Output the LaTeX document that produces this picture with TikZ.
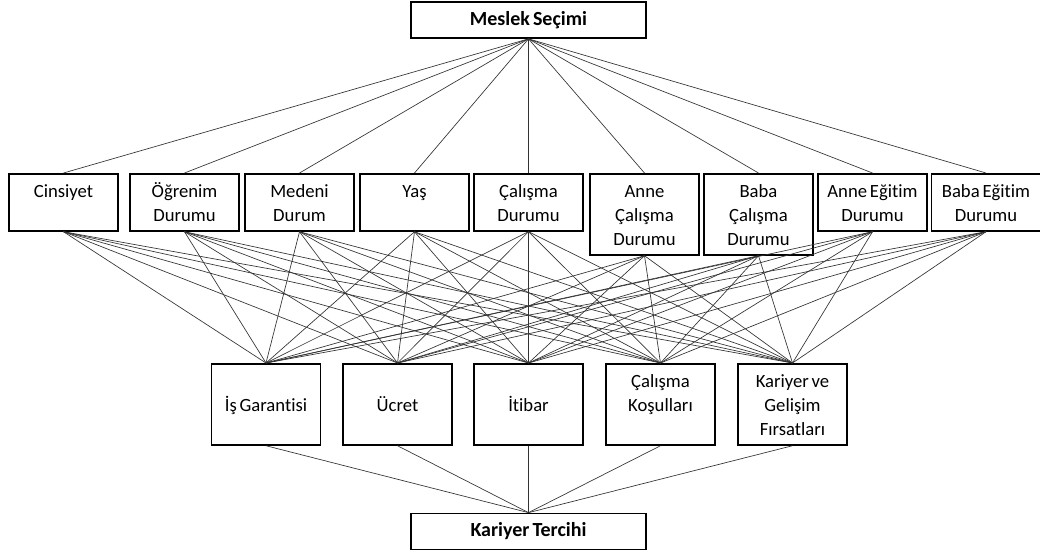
\documentclass[tikz,border=0pt]{standalone}
\usepackage{fontspec}
\setmainfont{Carlito}[Ligatures=NoCommon]
\usepackage{tikz}
\usetikzlibrary{positioning}
\newcommand{\tightwords}{\spaceskip=0.15em\relax}

\begin{document}
\begin{tikzpicture}[x=0.75pt, y=-0.75pt,
    box/.style={draw, line width=1.3pt, inner sep=0pt, text width=81.75pt, align=center,
        font=\fontsize{14}{18}\selectfont, execute at begin node=\tightwords, anchor=north},
    midbox/.style={box, text height=18pt, text depth=24.75pt},
    tallbox/.style={box, text height=18pt, text depth=42.75pt},
    lowbox/.style={box, text height=36pt, text depth=24.75pt},
    endbox/.style={draw, line width=1.3pt, minimum width=176.25pt, minimum height=27pt,
        font=\fontsize{15}{18}\selectfont\bfseries\tightwords},
    link/.style={draw=black!80, line width=0.5pt}]
\useasboundingbox (0,0) rectangle (1040,553);

% Top and bottom
\node[endbox] (meslek) at (528.5,20) {Meslek Seçimi};
\node[endbox] (kariyer) at (528.5,531.5) {Kariyer Tercihi};

% Middle row
\node[midbox] (cins) at (63.5,173) {Cinsiyet};
\node[midbox] (ogrenim) at (184.5,173) {Öğrenim\\Durumu};
\node[midbox] (medeni) at (299.5,173) {Medeni\\Durum};
\node[midbox] (yas) at (414.5,173) {Yaş};
\node[midbox] (calisma) at (528.5,173) {Çalışma\\Durumu};
\node[tallbox] (annecal) at (644.5,173) {Anne\\Çalışma\\Durumu};
\node[tallbox] (babacal) at (758.5,173) {Baba\\Çalışma\\Durumu};
\node[midbox] (anneegt) at (872.5,173) {Anne Eğitim\\Durumu};
\node[midbox] (babaegt) at (986,173) {Baba Eğitim\\Durumu};

% Lower row
\node[lowbox] (garanti) at (266,363) {İş Garantisi};
\node[lowbox] (ucret) at (397.5,363) {Ücret};
\node[lowbox] (itibar) at (528.5,363) {İtibar};
\node[tallbox] (kosul) at (660.5,363) {Çalışma\\Koşulları};
\node[tallbox] (gelisim) at (792.5,363) {Kariyer ve\\Gelişim\\Fırsatları};

% Links
\foreach \m in {cins,ogrenim,medeni,yas,calisma,annecal,babacal,anneegt,babaegt} {
    \draw[link] (meslek.south) -- (\m.north);
    \foreach \b in {garanti,ucret,itibar,kosul,gelisim}
        \draw[link] (\m.south) -- (\b.north);
}
\foreach \b in {garanti,ucret,itibar,kosul,gelisim}
    \draw[link] (\b.south) -- (kariyer.north);
\end{tikzpicture}
\end{document}
